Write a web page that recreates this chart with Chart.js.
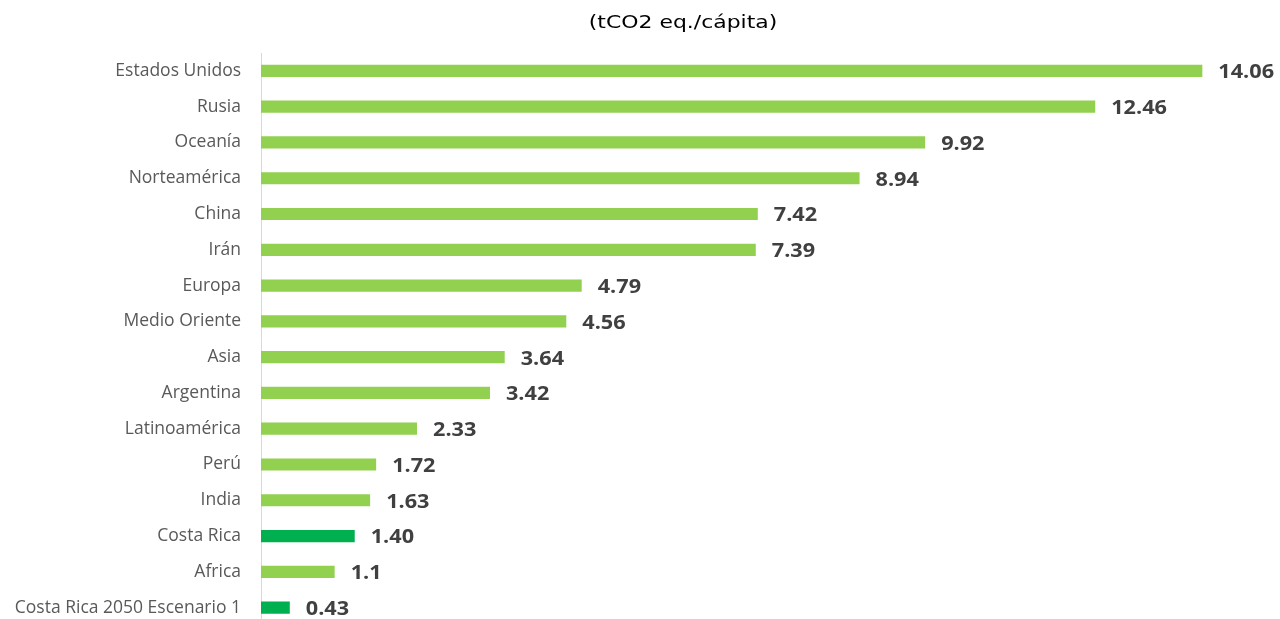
<!DOCTYPE html>
<html>
<head>
<meta charset="utf-8">
<script src="https://cdn.jsdelivr.net/npm/chart.js@4"></script>
<style>
  html, body { margin: 0; padding: 0; background: #fff; overflow: hidden; }
  canvas { display: block; }
</style>
</head>
<body>
<canvas id="myChart" width="1280" height="656"></canvas>
<script>
const categories = ['Estados Unidos', 'Rusia', 'Oceanía', 'Norteamérica', 'China', 'Irán', 'Europa',
  'Medio Oriente', 'Asia', 'Argentina', 'Latinoamérica', 'Perú', 'India', 'Costa Rica', 'Africa',
  'Costa Rica 2050 Escenario 1'];
const values = [14.06, 12.46, 9.92, 8.94, 7.42, 7.39, 4.79, 4.56, 3.64, 3.42, 2.33, 1.72, 1.63, 1.40, 1.1, 0.43];
const valueLabels = ['14.06', '12.46', '9.92', '8.94', '7.42', '7.39', '4.79', '4.56', '3.64', '3.42',
  '2.33', '1.72', '1.63', '1.40', '1.1', '0.43'];
const highlight = ['Costa Rica', 'Costa Rica 2050 Escenario 1'];
const title = '(tCO2 eq./cápita)';

// etiquetas de valor + título (texto un poco ensanchado como en la imagen original)
const labelPlugin = {
  id: 'labels',
  afterDatasetsDraw(chart) {
    const ctx = chart.ctx;
    const meta = chart.getDatasetMeta(0);
    ctx.save();
    ctx.font = 'bold 19px "Open Sans"';
    ctx.fillStyle = '#404040';
    ctx.textAlign = 'left';
    ctx.textBaseline = 'middle';
    meta.data.forEach((bar, i) => {
      ctx.save();
      ctx.translate(bar.x + 16, bar.y + 2);
      ctx.scale(1.14, 1);
      ctx.fillText(valueLabels[i], 0, 0);
      ctx.restore();
    });
    ctx.font = '17px "DejaVu Sans"';
    ctx.fillStyle = '#000';
    ctx.textAlign = 'center';
    ctx.translate(683, 24);
    ctx.scale(1.29, 1);
    ctx.fillText(title, 0, 0);
    ctx.restore();
  }
};

const ctx = document.getElementById('myChart').getContext('2d');
const myChart = new Chart(ctx, {
  type: 'bar',
  data: {
    labels: categories,
    datasets: [{
      data: values,
      backgroundColor: categories.map(c => highlight.includes(c) ? '#00B050' : '#92D050'),
      barPercentage: 0.34,
      categoryPercentage: 1
    }]
  },
  options: {
    indexAxis: 'y',
    responsive: false,
    animation: false,
    layout: { padding: { top: 53, right: 0, bottom: 0, left: 0 } },
    plugins: { legend: { display: false }, tooltip: { enabled: false } },
    scales: {
      x: { display: false, min: 0, max: 15.22 },
      y: {
        afterFit(scale) { scale.width = 261; },
        grid: { display: false, drawTicks: false },
        border: { display: true, color: '#D9D9D9', width: 1 },
        ticks: { padding: 20, color: '#595959', font: { family: 'Open Sans', size: 17.5 } }
      }
    }
  },
  plugins: [labelPlugin]
});
</script>
</body>
</html>
